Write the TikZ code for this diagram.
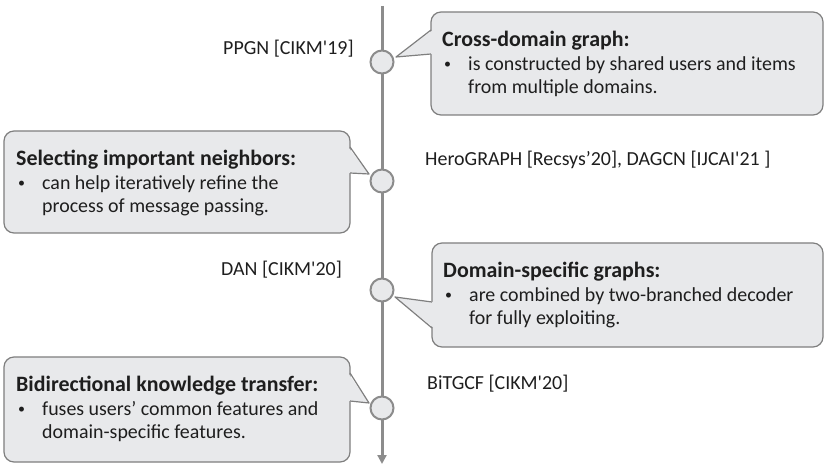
\documentclass[tikz,border=0pt]{standalone}
\usepackage{fontspec}
\setmainfont{Carlito}
\usetikzlibrary{arrows.meta}
\definecolor{boxfill}{HTML}{E8E9EB}
\definecolor{boxline}{HTML}{7F7F7F}
\definecolor{axisc}{HTML}{8C8C8C}
\definecolor{txt}{HTML}{1E1E1E}
\newcommand{\sq}{\textquotesingle}
\tikzset{
  callout/.style={draw=boxline, fill=boxfill, line width=1.2bp, rounded corners=10bp, inner sep=0pt},
  dot/.style={circle, draw=axisc, fill=boxfill, line width=2bp, minimum size=23bp, inner sep=0pt},
  ttl/.style={anchor=base west, inner sep=0pt, text=txt, font=\fontsize{22}{26}\selectfont\bfseries},
  bdy/.style={anchor=base west, inner sep=0pt, text=txt, font=\fontsize{20}{24}\selectfont},
  bul/.style={anchor=base west, inner sep=0pt, text=txt, font=\fontsize{14}{16}\selectfont},
  lbl/.style={anchor=base west, inner sep=0pt, text=txt, font=\fontsize{20}{24}\selectfont},
  ptrfill/.style={fill=boxfill},
  ptrline/.style={draw=boxline, line width=1.2bp, line join=round}
}
\begin{document}
\begin{tikzpicture}[x=1bp,y=-1bp]
\useasboundingbox (0,0) rectangle (825,465);
% axis
\coordinate (top) at (382,6);
\coordinate (bot) at (382,464);
\draw[axisc, line width=3bp, -{Triangle[width=9bp,length=9bp]}] (top) -- (bot);
% circles
\node[dot] (c1) at (382,62) {};
\node[dot] (c2) at (382,181) {};
\node[dot] (c3) at (382,290) {};
\node[dot] (c4) at (382,408) {};
% labels
\node[lbl] (l1) at (223,55) {PPGN [CIKM\sq19]};
\node[lbl] (l2) at (425,166) {HeroGRAPH [Recsys’20], DAGCN [IJCAI\sq21 ]};
\node[lbl] (l3) at (221,276) {DAN [CIKM\sq20]};
\node[lbl] (l4) at (427,389) {BiTGCF [CIKM\sq20]};
% boxes
\node[callout, minimum width=392bp, minimum height=103bp] (b1) at (627,63.5) {};
\node[callout, minimum width=346bp, minimum height=102bp] (b2) at (177,182) {};
\node[callout, minimum width=391bp, minimum height=104bp] (b3) at (627.5,295) {};
\node[callout, minimum width=346bp, minimum height=105bp] (b4) at (177,409.5) {};
% pointers
\coordinate (t1) at (396,57);  \coordinate (u1) at (431,30);  \coordinate (d1) at (431,54);
\coordinate (t2) at (369,174); \coordinate (u2) at (350,147); \coordinate (d2) at (350,173);
\coordinate (t3) at (395,297); \coordinate (u3) at (432,302); \coordinate (d3) at (432,328);
\coordinate (t4) at (369,403); \coordinate (u4) at (350,373); \coordinate (d4) at (350,401);
\fill[ptrfill] (t1) -- ([xshift=2]u1) -- ([xshift=2]d1) -- cycle;
\draw[ptrline] (u1) -- (t1) -- (d1);
\fill[ptrfill] (t2) -- ([xshift=-2]u2) -- ([xshift=-2]d2) -- cycle;
\draw[ptrline] (u2) -- (t2) -- (d2);
\fill[ptrfill] (t3) -- ([xshift=2]u3) -- ([xshift=2]d3) -- cycle;
\draw[ptrline] (u3) -- (t3) -- (d3);
\fill[ptrfill] (t4) -- ([xshift=-2]u4) -- ([xshift=-2]d4) -- cycle;
\draw[ptrline] (u4) -- (t4) -- (d4);
% box texts
\node[ttl] (h1) at (442,46.7) {Cross-domain graph:};
\node[bul] (k1) at (444,68.5) {•};
\node[bdy] (s1a) at (468,70.7) {is constructed by shared users and items};
\node[bdy] (s1b) at (468,93.7) {from multiple domains.};
\node[ttl] (h2) at (16,165.7) {Selecting important neighbors:};
\node[bul] (k2) at (18,187.5) {•};
\node[bdy] (s2a) at (42,189.7) {can help iteratively refine the};
\node[bdy] (s2b) at (42,212.7) {process of message passing.};
\node[ttl] (h3) at (443,277.7) {Domain-specific graphs:};
\node[bul] (k3) at (445,299.5) {•};
\node[bdy] (s3a) at (469,301.7) {are combined by two-branched decoder};
\node[bdy] (s3b) at (469,324.7) {for fully exploiting.};
\node[ttl] (h4) at (16,391.7) {Bidirectional knowledge transfer:};
\node[bul] (k4) at (18,413.5) {•};
\node[bdy] (s4a) at (42,415.7) {fuses users’ common features and};
\node[bdy] (s4b) at (42,438.7) {domain-specific features.};
\end{tikzpicture}
\end{document}
